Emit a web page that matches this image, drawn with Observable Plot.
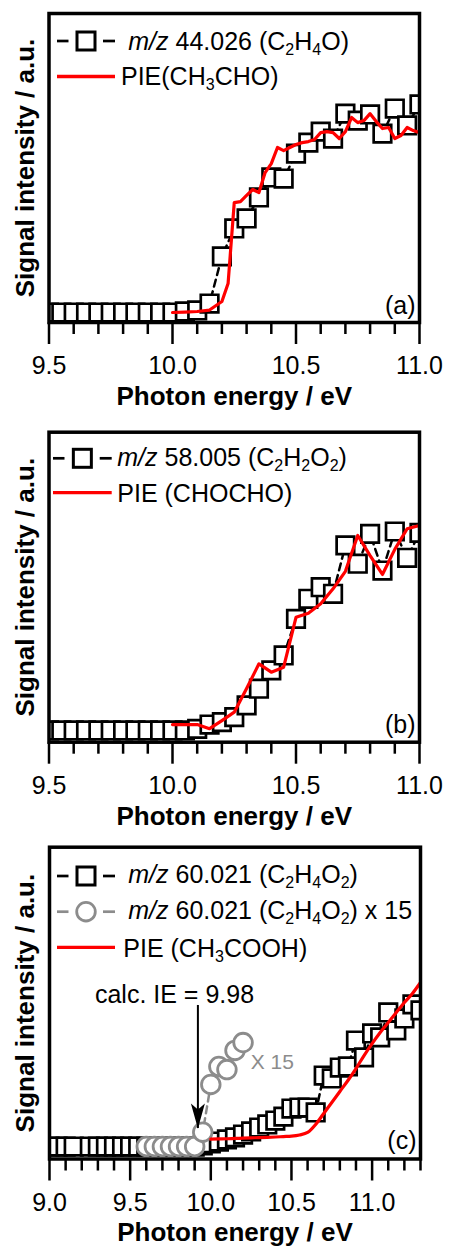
<!DOCTYPE html>
<html><head><meta charset="utf-8">
<script src="https://cdn.jsdelivr.net/npm/d3@7"></script>
<script src="https://cdn.jsdelivr.net/npm/@observablehq/plot@0.6"></script>
<style>
html,body{margin:0;padding:0;background:#fff;}
#fig{position:relative;width:449px;height:1247px;overflow:hidden;font-family:'Liberation Sans',Arial,Helvetica,sans-serif;}
#fig > svg, #fig > figure{position:absolute;left:0;margin:0;}
</style></head><body><div id="fig"></div>
<script>
// ---------- data: panel (a) ----------
const energyA = [9.5,9.55,9.6,9.65,9.7,9.75,9.8,9.85,9.9,9.95,10.0,10.05,10.1,10.15,10.2,10.25,10.3,10.35,10.4,10.45,10.5,10.55,10.6,10.65,10.7,10.75,10.8,10.85,10.9,10.95,11.0];
const signalA = [0,0,0,0,0,0,0,0,0,0,0,0.005,0.01,0.044,0.275,0.412,0.461,0.564,0.662,0.657,0.779,0.833,0.887,0.853,0.975,0.941,0.971,0.877,1.0,0.917,1.02];
const pieEnergyA = [10.0,10.05,10.1,10.15,10.2,10.225,10.25,10.275,10.3,10.325,10.35,10.375,10.4,10.425,10.45,10.475,10.5,10.525,10.55,10.575,10.6,10.625,10.65,10.675,10.7,10.725,10.75,10.775,10.8,10.825,10.85,10.875,10.9,10.925,10.95,10.975,11.0];
const pieA = [0,0.002,0.005,0.012,0.054,0.142,0.539,0.544,0.574,0.603,0.588,0.686,0.730,0.809,0.794,0.809,0.824,0.833,0.838,0.848,0.882,0.887,0.882,0.853,0.887,0.956,0.931,0.941,0.975,0.936,0.902,0.907,0.853,0.868,0.907,0.892,0.882];

// ---------- data: panel (b) ----------
const energyB = [9.5,9.55,9.6,9.65,9.7,9.75,9.8,9.85,9.9,9.95,10.0,10.05,10.1,10.15,10.2,10.25,10.3,10.35,10.4,10.45,10.5,10.55,10.6,10.65,10.7,10.75,10.8,10.85,10.9,10.95,11.0];
const signalB = [0,0,0,0,0,0,0,0,0,0,0,0,0.008,0.03,0.042,0.067,0.126,0.21,0.302,0.377,0.561,0.662,0.72,0.687,0.93,0.838,0.988,0.804,1.0,0.868,0.993];
const pieEnergyB = [10.0,10.05,10.1,10.15,10.2,10.25,10.3,10.35,10.4,10.45,10.5,10.55,10.6,10.65,10.7,10.75,10.8,10.85,10.9,10.95,11.0];
const pieB = [0.03,0.03,0.03,0.009,0.05,0.092,0.211,0.335,0.293,0.318,0.569,0.589,0.637,0.712,0.80,0.98,0.879,0.784,0.91,1.014,1.03];

// ---------- data: panel (c) ----------
const energyC = [9.0,9.05,9.1,9.15,9.25,9.3,9.35,9.4,9.45,9.5,9.55,9.6,9.65,9.7,9.75,9.8,9.85,9.9,9.95,10.0,10.05,10.1,10.15,10.2,10.25,10.3,10.35,10.4,10.45,10.5,10.55,10.6,10.65,10.7,10.75,10.8,10.85,10.9,10.95,11.0,11.05,11.1,11.15,11.2,11.25,11.3];
const signalC = [0,0,0,0,0,0,0,0,0,0,0,0,0,0,0,0,0,0,0.007,0.021,0.034,0.048,0.062,0.082,0.103,0.130,0.151,0.178,0.205,0.260,0.267,0.267,0.233,0.486,0.466,0.541,0.548,0.726,0.610,0.774,0.747,0.918,0.795,0.877,0.973,0.932];
const energyX15 = [9.6,9.65,9.7,9.75,9.8,9.85,9.9,9.95,10.0,10.05,10.1,10.15,10.2];
const signalX15 = [0,0,0,0,0,0,0,0.098,0.425,0.548,0.527,0.658,0.712];
const pieEnergyC = [10.0,10.05,10.1,10.15,10.2,10.25,10.3,10.35,10.4,10.45,10.5,10.55,10.6,10.65,10.7,10.75,10.8,10.85,10.9,10.95,11.0,11.05,11.1,11.15,11.2,11.25,11.3];
const pieC = [0.050,0.052,0.053,0.055,0.057,0.059,0.061,0.063,0.065,0.068,0.071,0.079,0.096,0.151,0.226,0.301,0.377,0.452,0.534,0.623,0.705,0.781,0.849,0.918,0.986,1.048,1.123];

// annotation (panel c), in data units
const ieArrowX = [9.92];
const ieArrowTop = [0.966];
const ieArrowTip = [0.123];
const ieLabel = ["calc. IE = 9.98"];
const ieLabelPos = [[9.775, 1.041]];
const x15Label = ["X 15"];
const x15LabelPos = [[10.247, 0.58]];

// ticks
const majorTicksAB = [9.5,10.0,10.5,11.0];
const minorTicksAB = [9.6,9.7,9.8,9.9,10.1,10.2,10.3,10.4,10.6,10.7,10.8,10.9];
const majorTicksC = [9.0,9.5,10.0,10.5,11.0];
const minorTicksC = [9.1,9.2,9.3,9.4,9.6,9.7,9.8,9.9,10.1,10.2,10.3,10.4,10.6,10.7,10.8,10.9,11.1,11.2,11.3];

// texts
const xTitle = "Photon energy / eV";
const yTitle = "Signal intensity / a.u.";
const panelLabels = ["(a)","(b)","(c)"];
const legendA = ["*m/z* 44.026 (C_2H_4O)", "PIE(CH_3CHO)"];
const legendB = ["*m/z* 58.005 (C_2H_2O_2)", "PIE (CHOCHO)"];
const legendC = ["*m/z* 60.021 (C_2H_4O_2)", "*m/z* 60.021 (C_2H_4O_2) x 15", "PIE (CH_3COOH)"];

// ---------- styling ----------
const FONT = "'Liberation Sans', Arial, Helvetica, sans-serif";
const RED = "#ff0000";
const GREY = "#8c8c8c";
const zip = (xs, ys) => xs.map((e, i) => ({e, s: ys[i]}));

const arrowHead = {draw(ctx) { ctx.moveTo(0, 0); ctx.lineTo(-7, -25); ctx.lineTo(0, -19); ctx.lineTo(7, -25); ctx.closePath(); }};

function dashedLine(data, color) {
  return Plot.line(data, {x: "e", y: "s", stroke: color, strokeWidth: 2.5, strokeDasharray: "7,5", clip: true});
}
function squares(data) {
  return Plot.dot(data, {x: "e", y: "s", symbol: "square", r: 9.9, fill: "white", stroke: "black", strokeWidth: 2.7, clip: true});
}
function redLine(data, curve) {
  return Plot.line(data, {x: "e", y: "s", stroke: RED, strokeWidth: 3.2, curve: curve || "linear", clip: true});
}
function common(minor, major, label, labelDy) {
  return [
    Plot.frame({stroke: "black", strokeWidth: 3.5}),
    Plot.axisX({ticks: minor, tickSize: 12, strokeWidth: 2.5, tickFormat: () => "", label: null}),
    Plot.axisX({ticks: major, tickSize: 22, strokeWidth: 2.5, tickPadding: 12, tickFormat: d3.format(".1f"), fontSize: 25, label: null, fill: "black"}),
    Plot.text([xTitle], {text: d => d, frameAnchor: "bottom", dy: 74, textAnchor: "middle", lineAnchor: "middle", fontSize: 26, fontWeight: "bold", fill: "black"}),
    Plot.text([yTitle], {text: d => d, frameAnchor: "left", dx: -23.5, rotate: -90, textAnchor: "middle", lineAnchor: "middle", fontSize: 26, fontWeight: "bold", fill: "black"}),
    Plot.text([label], {text: d => d, frameAnchor: "bottom-right", dx: -4, dy: labelDy, textAnchor: "end", lineAnchor: "middle", fontSize: 25, fill: "black"})
  ];
}

const fig = document.getElementById("fig");
function place(svg, top) { svg.style.top = top + "px"; fig.appendChild(svg); }

// panel (a)
place(Plot.plot({
  width: 449, height: 419, marginLeft: 48.5, marginRight: 30, marginTop: 13, marginBottom: 97,
  style: {fontFamily: FONT, background: "transparent", overflow: "visible", color: "black"},
  x: {domain: [9.5, 11.0], label: null},
  y: {domain: [-0.049, 1.466], axis: null},
  marks: [
    dashedLine(zip(energyA, signalA), "black"),
    squares(zip(energyA, signalA)),
    redLine(zip(pieEnergyA, pieA)),
    ...common(minorTicksAB, majorTicksAB, panelLabels[0], -16.7)
  ]
}), 0);

// panel (b)
place(Plot.plot({
  width: 449, height: 414, marginLeft: 48.5, marginRight: 30, marginTop: 12.7, marginBottom: 91.3,
  style: {fontFamily: FONT, background: "transparent", overflow: "visible", color: "black"},
  x: {domain: [9.5, 11.0], label: null},
  y: {domain: [-0.0588, 1.499], axis: null},
  marks: [
    dashedLine(zip(energyB, signalB), "black"),
    squares(zip(energyB, signalB)),
    redLine(zip(pieEnergyB, pieB)),
    ...common(minorTicksAB, majorTicksAB, panelLabels[1], -17.7)
  ]
}), 419);

// panel (c)
place(Plot.plot({
  width: 449, height: 414, marginLeft: 49, marginRight: 29, marginTop: 13.7, marginBottom: 88.5,
  style: {fontFamily: FONT, background: "transparent", overflow: "visible", color: "black"},
  x: {domain: [9.0, 11.3], label: null},
  y: {domain: [-0.0856, 2.05], axis: null},
  marks: [
    dashedLine(zip(energyC, signalC), "black"),
    squares(zip(energyC, signalC)),
    dashedLine(zip(energyX15, signalX15), GREY),
    Plot.dot(zip(energyX15, signalX15), {x: "e", y: "s", r: 9.3, fill: "white", stroke: GREY, strokeWidth: 2.8, clip: true}),
    redLine(zip(pieEnergyC, pieC), "monotone-x"),
    Plot.ruleX(ieArrowX.map((e, i) => ({e, top: ieArrowTop[i], tip: ieArrowTip[i]})), {x: "e", y1: "top", y2: "tip", strokeWidth: 2, stroke: "black"}),
    Plot.dot(ieArrowX.map((e, i) => ({e, tip: ieArrowTip[i]})), {x: "e", y: "tip", symbol: arrowHead, r: 5, fill: "black", stroke: "none"}),
    Plot.text(ieLabel, {x: (d, i) => ieLabelPos[i][0], y: (d, i) => ieLabelPos[i][1], text: d => d, fontSize: 25, textAnchor: "middle", lineAnchor: "middle", fill: "black"}),
    Plot.text(x15Label, {x: (d, i) => x15LabelPos[i][0], y: (d, i) => x15LabelPos[i][1], text: d => d, fontSize: 21, textAnchor: "start", lineAnchor: "middle", fill: GREY}),
    ...common(minorTicksC, majorTicksC, panelLabels[2], -17.7)
  ]
}), 833);

// ---------- legends (overlay) ----------
const NS = "http://www.w3.org/2000/svg";
const ov = document.createElementNS(NS, "svg");
ov.setAttribute("width", 449); ov.setAttribute("height", 1247);
ov.style.cssText = "position:absolute;left:0;top:0;pointer-events:none;font-family:" + FONT + ";";
fig.appendChild(ov);
function el(tag, attrs, parent) {
  const e = document.createElementNS(NS, tag);
  for (const k in attrs) e.setAttribute(k, attrs[k]);
  (parent || ov).appendChild(e);
  return e;
}
function richText(str, x, y, size) {
  const t = el("text", {x, y, "font-size": size, fill: "black"});
  const re = /(\*[^*]+\*|_\d)/g;
  let last = 0, m, down = false;
  const span = (s, attrs) => {
    const a = Object.assign({}, attrs || {});
    if (down && !a.sub) { a.dy = -5; down = false; }
    delete a.sub;
    const ts = el("tspan", a, t); ts.textContent = s;
  };
  while ((m = re.exec(str))) {
    if (m.index > last) span(str.slice(last, m.index));
    if (m[0][0] === "*") span(m[0].slice(1, -1), {"font-style": "italic"});
    else { if (down) span(m[0][1], {sub: 1, "font-size": 16}); else span(m[0][1], {sub: 1, "font-size": 16, dy: 5}); down = true; }
    last = re.lastIndex;
  }
  if (last < str.length) span(str.slice(last));
}
function keyDashed(x1, x2, cy, color) {
  el("line", {x1, x2: x1 + 11.5, y1: cy, y2: cy, stroke: color, "stroke-width": 2.7});
  el("line", {x1: x2 - 12, x2, y1: cy, y2: cy, stroke: color, "stroke-width": 2.7});
}
function keySquare(x1, x2, cy) {
  keyDashed(x1, x2, cy, "black");
  const cx = (x1 + x2) / 2, s = 18;
  el("rect", {x: cx - s / 2, y: cy - s / 2, width: s, height: s, fill: "white", stroke: "black", "stroke-width": 3});
}
function keyCircle(x1, x2, cy) {
  keyDashed(x1, x2, cy, GREY);
  el("circle", {cx: (x1 + x2) / 2, cy, r: 9.3, fill: "white", stroke: GREY, "stroke-width": 2.8});
}
function keyRed(x1, x2, cy) {
  el("line", {x1, x2, y1: cy, y2: cy, stroke: RED, "stroke-width": 3.3});
}
// panel a
keySquare(57, 115, 41); richText(legendA[0], 128.3, 49.5, 25);
keyRed(57, 115, 76.5); richText(legendA[1], 121, 85, 25);
// panel b
keySquare(53, 111.7, 458.3); richText(legendB[0], 117.3, 465.5, 25);
keyRed(53, 111.7, 492.7); richText(legendB[1], 117.3, 501.7, 25);
// panel c
keySquare(57, 115, 876); richText(legendC[0], 128.3, 883.3, 25);
keyCircle(57, 115, 911.7); richText(legendC[1], 128.3, 919.3, 25);
keyRed(57, 115, 947.3); richText(legendC[2], 123.3, 956.7, 25);
</script></body></html>
